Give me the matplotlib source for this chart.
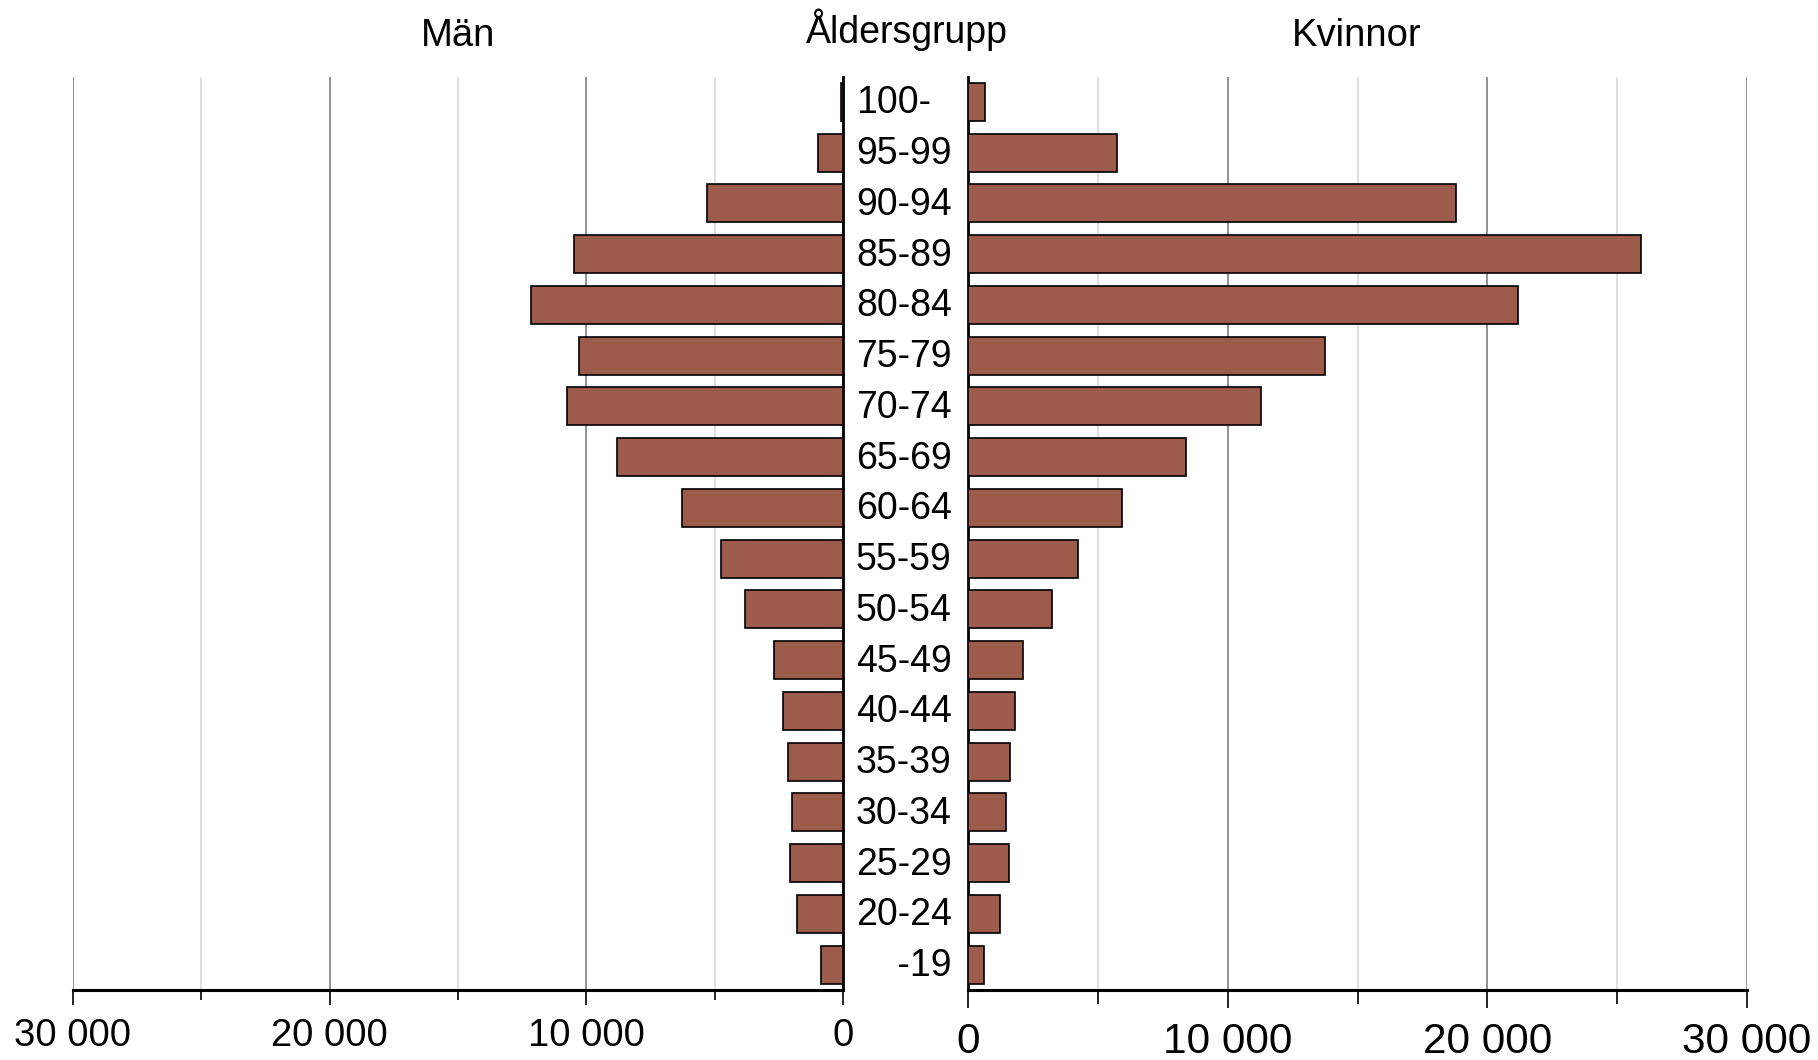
import matplotlib.pyplot as plt
from matplotlib.ticker import MultipleLocator, FuncFormatter
import matplotlib.transforms as mtransforms

plt.rcParams['font.family'] = ['Liberation Sans', 'DejaVu Sans']

# data, top to bottom
age_groups = ["100-", "95-99", "90-94", "85-89", "80-84", "75-79", "70-74", "65-69", "60-64",
              "55-59", "50-54", "45-49", "40-44", "35-39", "30-34", "25-29", "20-24", "    -19"]
men = [90, 980, 5300, 10500, 12150, 10300, 10750, 8800, 6280,
       4740, 3830, 2670, 2330, 2150, 2000, 2080, 1780, 850]
women = [640, 5720, 18800, 25900, 21200, 13750, 11300, 8400, 5940,
         4240, 3230, 2120, 1820, 1630, 1480, 1560, 1240, 600]

bar_color = "#9C5B4B"
W, H = 1818, 1060

fig = plt.figure(figsize=(W / 100, H / 100), dpi=100)

def fx(px):
    return px / W

bottom = 1 - 990 / H
height = (990 - 76.5) / H
ax_l = fig.add_axes([fx(73), bottom, fx(843 - 73), height])
ax_r = fig.add_axes([fx(968), bottom, fx(1747 - 968), height])
ax_m = fig.add_axes([fx(843), bottom, fx(968 - 843), height])

y = list(range(len(age_groups)))

def thousands(v, pos):
    return f"{int(v):,}".replace(",", " ")

# venstre = män, höger = kvinnor
for ax, vals, fs, pad, majlen, minlen in [(ax_l, men, 27.5, 9, 11, 7.5), (ax_r, women, 30.5, 10, 13, 10)]:
    ax.barh(y, vals, height=0.75, color=bar_color, edgecolor="black", linewidth=1.2, zorder=3)
    ax.set_ylim(len(age_groups) - 0.5, -0.5)
    ax.set_xlim(0, 30000)
    ax.xaxis.set_major_locator(MultipleLocator(10000))
    ax.xaxis.set_minor_locator(MultipleLocator(5000))
    ax.xaxis.set_major_formatter(FuncFormatter(thousands))
    ax.grid(axis="x", which="major", color="#808080", linewidth=1.2, zorder=0)
    ax.grid(axis="x", which="minor", color="#d9d9d9", linewidth=1.2, zorder=0)
    ax.set_yticks([])
    ax.tick_params(axis="x", which="major", length=majlen, width=1.2, pad=pad, labelsize=fs, direction="out")
    ax.tick_params(axis="x", which="minor", length=minlen, width=1.2, direction="out")
    for s in ["top", "left", "right"]:
        ax.spines[s].set_visible(False)
    ax.spines["bottom"].set_linewidth(2.2)

ax_l.set_xlim(30000, 0)
ax_l.spines["right"].set_visible(True)
ax_l.spines["right"].set_linewidth(2.0)
ax_r.spines["left"].set_visible(True)
ax_r.spines["left"].set_linewidth(2.0)

ax_m.set_ylim(len(age_groups) - 0.5, -0.5)
ax_m.axis("off")
trans = mtransforms.blended_transform_factory(ax_m.transAxes, ax_m.transData)
for i, lab in enumerate(age_groups):
    ax_m.text(13 / 125, i + 0.03, lab, transform=trans, ha="left", va="center", fontsize=27)

fig.text(fx(458), 1 - 46 / H, "Män", ha="center", va="baseline", fontsize=27.5)
fig.text(fx(907), 1 - 43 / H, "Åldersgrupp", ha="center", va="baseline", fontsize=27)
fig.text(fx(1357), 1 - 46 / H, "Kvinnor", ha="center", va="baseline", fontsize=27.5)

fig.savefig("out.png", dpi=100)
